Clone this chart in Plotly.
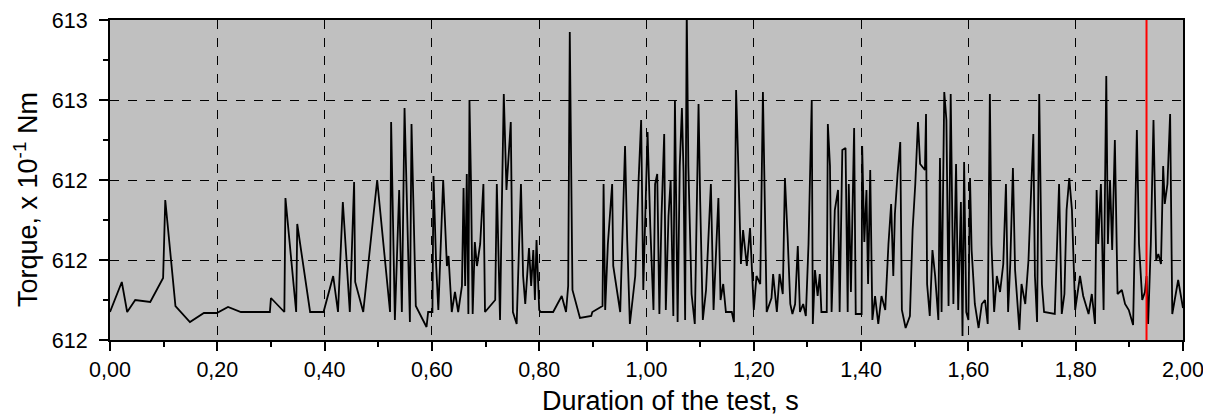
import plotly.graph_objects as go

# Time (s)
time_s = [
    0.000, 0.022, 0.032, 0.047, 0.075, 0.099, 0.103, 0.122, 0.149, 0.175,
    0.199, 0.220, 0.244, 0.298, 0.300, 0.325, 0.327, 0.347, 0.349, 0.373,
    0.398, 0.416, 0.425, 0.434, 0.447, 0.455, 0.457, 0.472, 0.498, 0.522,
    0.524, 0.531, 0.539, 0.544, 0.549, 0.559, 0.562, 0.570, 0.590, 0.593,
    0.601, 0.603, 0.608, 0.612, 0.621, 0.628, 0.631, 0.637, 0.643, 0.649,
    0.656, 0.659, 0.662, 0.665, 0.668, 0.670, 0.673, 0.676, 0.680, 0.684,
    0.690, 0.696, 0.699, 0.718, 0.721, 0.727, 0.730, 0.734, 0.739, 0.744,
    0.747, 0.751, 0.758, 0.766, 0.770, 0.774, 0.781, 0.785, 0.789, 0.792,
    0.795, 0.800, 0.803, 0.826, 0.842, 0.850, 0.854, 0.857, 0.862, 0.876,
    0.897, 0.899, 0.918, 0.920, 0.923, 0.928, 0.936, 0.938, 0.951, 0.960,
    0.964, 0.969, 0.979, 0.985, 0.990, 0.994, 1.002, 1.007, 1.013, 1.016,
    1.020, 1.024, 1.028, 1.033, 1.036, 1.041, 1.045, 1.050, 1.053, 1.058,
    1.062, 1.066, 1.069, 1.072, 1.075, 1.078, 1.084, 1.090, 1.097, 1.100,
    1.105, 1.111, 1.120, 1.125, 1.134, 1.138, 1.143, 1.148, 1.159, 1.163,
    1.167, 1.171, 1.176, 1.180, 1.187, 1.193, 1.200, 1.205, 1.212, 1.217,
    1.221, 1.224, 1.233, 1.236, 1.243, 1.248, 1.254, 1.258, 1.263, 1.268,
    1.272, 1.277, 1.282, 1.286, 1.292, 1.297, 1.302, 1.308, 1.310, 1.314,
    1.319, 1.323, 1.326, 1.336, 1.338, 1.342, 1.345, 1.351, 1.357, 1.360,
    1.365, 1.371, 1.375, 1.377, 1.381, 1.384, 1.387, 1.390, 1.401, 1.402,
    1.406, 1.410, 1.413, 1.417, 1.421, 1.426, 1.432, 1.438, 1.445, 1.451,
    1.456, 1.460, 1.463, 1.468, 1.473, 1.476, 1.483, 1.491, 1.496, 1.501,
    1.506, 1.510, 1.519, 1.521, 1.523, 1.528, 1.533, 1.538, 1.544, 1.547,
    1.550, 1.555, 1.559, 1.563, 1.567, 1.572, 1.577, 1.581, 1.586, 1.589,
    1.592, 1.596, 1.600, 1.603, 1.606, 1.612, 1.619, 1.625, 1.631, 1.636,
    1.640, 1.643, 1.648, 1.653, 1.659, 1.665, 1.670, 1.674, 1.678, 1.683,
    1.687, 1.695, 1.699, 1.706, 1.712, 1.721, 1.724, 1.728, 1.732, 1.737,
    1.741, 1.761, 1.769, 1.774, 1.779, 1.783, 1.788, 1.793, 1.799, 1.808,
    1.814, 1.824, 1.830, 1.836, 1.839, 1.842, 1.847, 1.852, 1.855, 1.857,
    1.860, 1.864, 1.868, 1.873, 1.878, 1.886, 1.892, 1.899, 1.907, 1.914,
    1.918, 1.924, 1.929, 1.932, 1.935, 1.940, 1.945, 1.950, 1.954, 1.959,
    1.963, 1.966, 1.971, 1.976, 1.980, 1.991, 2.000,
]

# Torque (x 10^-1 Nm)
torque = [
    611.74, 611.89, 611.74, 611.80, 611.79, 611.91, 612.30, 611.77, 611.69, 611.735,
    611.735, 611.765, 611.74, 611.74, 611.81, 611.74, 612.31, 611.74, 612.18, 611.74,
    611.74, 611.92, 611.74, 612.29, 611.74, 612.39, 611.89, 611.74, 612.40, 611.74,
    612.69, 611.70, 612.35, 611.74, 612.76, 611.69, 612.68, 611.77, 611.665, 611.74,
    611.74, 612.42, 611.97, 611.75, 612.40, 611.97, 612.02, 611.74, 611.84, 611.74,
    611.87, 612.36, 611.87, 612.43, 611.73, 612.80, 612.37, 611.73, 612.09, 611.97,
    612.08, 612.38, 611.74, 611.80, 612.38, 611.70, 612.22, 612.83, 612.35, 612.59,
    612.69, 611.74, 611.68, 612.38, 611.92, 611.78, 612.06, 611.87, 612.05, 611.80,
    612.10, 611.75, 611.74, 611.74, 611.82, 611.74, 611.87, 613.14, 611.85, 611.71,
    611.72, 611.74, 611.77, 612.38, 611.75, 612.08, 612.38, 611.97, 611.74, 612.57,
    612.10, 611.68, 611.92, 612.38, 612.70, 611.85, 612.64, 612.17, 611.75, 612.38,
    612.43, 611.73, 612.22, 612.63, 611.75, 612.22, 612.40, 611.72, 612.80, 611.69,
    612.47, 612.76, 612.44, 611.70, 613.25, 612.47, 611.83, 611.68, 612.78, 612.30,
    611.70, 611.85, 612.38, 611.75, 612.31, 611.80, 611.88, 611.74, 611.74, 611.69,
    612.85, 612.48, 611.98, 612.15, 611.97, 612.16, 611.75, 611.92, 611.88, 612.84,
    612.08, 611.74, 611.81, 611.93, 611.74, 611.93, 611.83, 612.41, 612.12, 611.78,
    611.73, 611.78, 612.07, 611.74, 611.78, 611.72, 612.08, 612.80, 611.68, 611.95,
    611.82, 611.93, 611.74, 611.74, 612.68, 612.47, 611.74, 612.25, 612.35, 611.74,
    612.55, 612.56, 611.74, 612.38, 611.84, 612.35, 612.66, 611.73, 611.73, 612.57,
    612.09, 612.35, 611.88, 612.45, 611.70, 611.82, 611.68, 611.82, 611.75, 612.08,
    612.28, 611.92, 612.23, 612.43, 612.59, 611.75, 611.66, 611.72, 612.15, 612.38,
    612.69, 612.48, 612.45, 612.73, 611.88, 611.72, 612.05, 611.92, 611.70, 612.51,
    611.74, 612.84, 612.70, 611.77, 612.83, 611.78, 612.48, 611.75, 612.29, 611.62,
    612.49, 611.74, 611.70, 612.41, 612.05, 611.78, 611.66, 611.78, 611.80, 611.68,
    612.83, 612.08, 611.74, 611.92, 611.84, 611.98, 612.38, 611.74, 611.98, 612.46,
    611.95, 611.65, 611.88, 611.78, 612.00, 612.63, 611.92, 611.69, 612.83, 611.88,
    611.74, 611.73, 612.38, 611.73, 611.83, 612.25, 612.41, 612.25, 611.75, 611.92,
    611.82, 611.73, 611.83, 611.68, 612.35, 612.08, 612.38, 611.75, 612.53, 612.92,
    612.08, 612.40, 612.05, 612.60, 611.83, 611.85, 611.78, 611.75, 611.675, 612.65,
    612.08, 611.80, 611.84, 611.92, 611.68, 612.08, 612.70, 612.00, 612.03, 611.98,
    612.47, 612.28, 612.38, 612.73, 611.73, 611.90, 611.76,
]

marker_time = 1.932
x_title = "Duration of the test, s"
y_title = "Torque, x 10<sup>-1</sup> Nm"

fig = go.Figure()
fig.add_trace(go.Scatter(
    x=time_s, y=torque, mode="lines",
    line=dict(color="black", width=1.8),
    showlegend=False, hoverinfo="skip",
))

fig.add_shape(type="line", x0=marker_time, x1=marker_time, y0=0, y1=1,
              xref="x", yref="paper", line=dict(color="red", width=2), layer="above")

font_family = "Arial, Liberation Sans, sans-serif"

# Axis titles as annotations (the reference titles sit slightly off-centre)
fig.add_annotation(text=x_title, xref="paper", yref="paper", x=0.5, y=0,
                   xanchor="center", yanchor="middle", xshift=24, yshift=-61,
                   showarrow=False, font=dict(size=27, color="black"))
fig.add_annotation(text=y_title, xref="paper", yref="paper", x=0, y=0.5,
                   xanchor="center", yanchor="middle", xshift=-84, yshift=-20,
                   textangle=-90, showarrow=False, font=dict(size=27, color="black"))

# The page body adds an 8px offset, so the figure is sized to fit the window after it.
fig.update_layout(
    width=1203, height=409,
    margin=dict(l=102, r=28, t=12, b=77),
    paper_bgcolor="white",
    plot_bgcolor="#c0c0c0",
    separators=",.",
    font=dict(family=font_family, color="black", size=21.5),
    xaxis=dict(
        range=[0, 2], tick0=0, dtick=0.2, tickformat=".2f",
        showgrid=True, gridcolor="black", gridwidth=1, griddash="dash",
        showline=True, linecolor="black", linewidth=2, mirror=True,
        ticks="outside", ticklen=9, tickwidth=1.5, tickcolor="black",
        minor=dict(dtick=0.1, ticks="outside", ticklen=5, tickwidth=1.5, tickcolor="black", showgrid=False),
        tickfont=dict(size=21.5), ticklabelstandoff=0,
        zeroline=False, automargin=False,
    ),
    yaxis=dict(
        range=[611.6, 613.2], tick0=611.6, dtick=0.4, tickformat=".0f",
        showgrid=True, gridcolor="black", gridwidth=1, griddash="dash",
        showline=True, linecolor="black", linewidth=2, mirror=True,
        ticks="outside", ticklen=9, tickwidth=1.5, tickcolor="black",
        minor=dict(dtick=0.2, ticks="outside", ticklen=5, tickwidth=1.5, tickcolor="black", showgrid=False),
        tickfont=dict(size=21.5), ticklabelstandoff=7,
        zeroline=False, automargin=False,
    ),
)

fig.write_html("out.html")
